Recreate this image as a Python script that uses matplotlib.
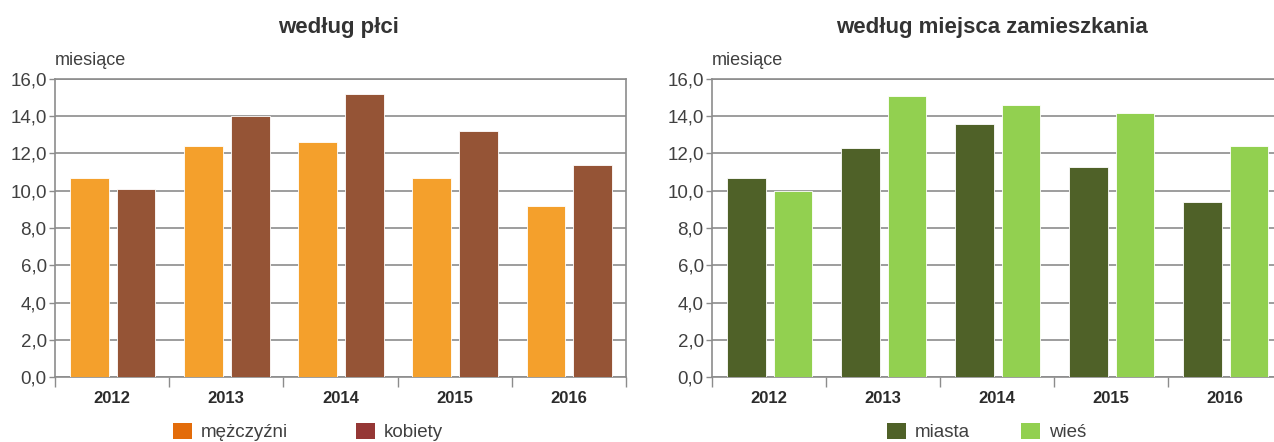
import matplotlib.pyplot as plt
import numpy as np
from matplotlib.patches import Patch
from matplotlib.ticker import FixedLocator, FuncFormatter

# dane
years = ['2012', '2013', '2014', '2015', '2016']
mezczyzni = [10.7, 12.4, 12.6, 10.7, 9.2]
kobiety = [10.1, 14.0, 15.2, 13.2, 11.4]
miasta = [10.7, 12.3, 13.6, 11.3, 9.4]
wies = [10.0, 15.1, 14.6, 14.2, 12.4]

titles = ['według płci', 'według miejsca zamieszkania']
series_names = [('mężczyźni', 'kobiety'), ('miasta', 'wieś')]
bar_colors = [('#F4A02C', '#955436'), ('#4F6128', '#92D050')]
legend_colors = [('#E36C0A', '#953735'), ('#4F6128', '#92D050')]

plt.rcParams['font.family'] = ['Liberation Sans', 'DejaVu Sans']
narrow = ['Liberation Sans Narrow', 'Liberation Sans', 'DejaVu Sans']

W, H = 1274, 442
fig = plt.figure(figsize=(W / 100, H / 100), dpi=100)

# pozycje osi w pikselach: (lewa, prawa)
ax_px = [(55, 626), (712, 1282)]
top_px, bot_px = 79, 377

data = [(mezczyzni, kobiety), (miasta, wies)]
x = np.arange(len(years))
grid_c = '#8C8C8C'
txt_c = '#404040'

for k, (l, r) in enumerate(ax_px):
    ax = fig.add_axes([l / W, 1 - bot_px / H, (r - l) / W, (bot_px - top_px) / H])
    a, b = data[k]
    ax.bar(x - 0.2, a, width=0.34, color=bar_colors[k][0], edgecolor='white', linewidth=0.6, zorder=3)
    ax.bar(x + 0.21, b, width=0.34, color=bar_colors[k][1], edgecolor='white', linewidth=0.6, zorder=3)

    ax.set_xlim(-0.5, len(years) - 0.5)
    ax.set_ylim(0, 16)
    ax.set_yticks(np.arange(0, 17, 2))
    ax.yaxis.set_major_formatter(FuncFormatter(lambda v, p: f'{v:.1f}'.replace('.', ',')))
    ax.yaxis.grid(True, color=grid_c, linewidth=1.2, zorder=0)
    ax.tick_params(axis='y', length=4, width=1, color=grid_c, labelsize=13.5, labelcolor=txt_c, pad=2)

    ax.set_xticks(x)
    ax.set_xticklabels(years, fontweight='bold', fontsize=12, color='#2b2b2b', family=narrow)
    ax.xaxis.set_minor_locator(FixedLocator(np.arange(-0.5, len(years), 1)))
    ax.tick_params(axis='x', which='major', length=0, pad=10)
    ax.tick_params(axis='x', which='minor', length=7, width=1, color=grid_c)

    for s in ['left', 'bottom', 'right', 'top']:
        ax.spines[s].set_color(grid_c)
        ax.spines[s].set_linewidth(1.2)

    ax.text(0, 1.035, 'miesiące', transform=ax.transAxes, fontsize=13, color=txt_c, va='bottom', ha='left')

    handles = [Patch(facecolor=legend_colors[k][0]), Patch(facecolor=legend_colors[k][1])]
    leg_x = [173, 887][k]
    fig.legend(handles, series_names[k], loc='center left', bbox_to_anchor=(leg_x / W, 1 - 432 / H),
               ncol=2, frameon=False, fontsize=13.5, handlelength=1.0, handleheight=1.0,
               handletextpad=0.5, columnspacing=[3.6, 2.7][k], borderpad=0, borderaxespad=0,
               labelcolor=txt_c)

fig.text(338 / W, 1 - 27 / H, titles[0], ha='center', va='center', fontsize=16, fontweight='bold', color='#333333')
fig.text(992 / W, 1 - 27 / H, titles[1], ha='center', va='center', fontsize=16, fontweight='bold', color='#333333')

fig.savefig('out.png', dpi=100)
